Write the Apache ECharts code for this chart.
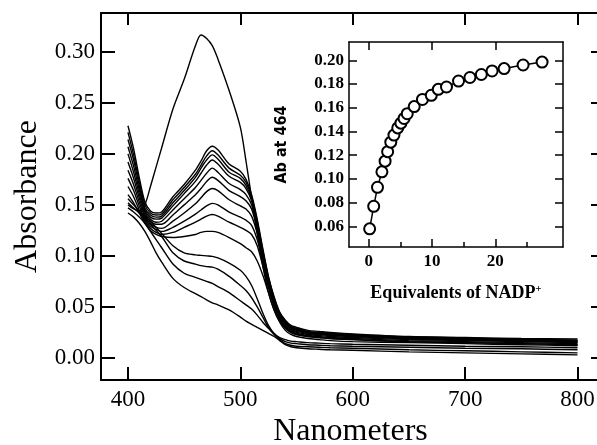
<!DOCTYPE html>
<html><head><meta charset="utf-8">
<script src="https://cdn.jsdelivr.net/npm/echarts@6/dist/echarts.min.js"></script>
<style>html,body{margin:0;padding:0;background:#fff}#c{width:597px;height:445px}</style>
</head><body><div id="c"></div>
<script>
const wavelengths = [400,405,410,415,420,425,430,440,450,460,465,470,475,480,490,500,505,510,515,520,525,530,535,540,545,550,560,570,580,600,650,700,750,800];

const spectrumTop = [0.150,0.146,0.144,0.150,0.168,0.187,0.206, 0.244,0.273,0.306,0.3165,0.313,0.306,0.293,0.262, 0.226,0.193,0.157,0.122,0.090,0.064,0.047,0.036,0.029,0.025,0.023, 0.021,0.020,0.019,0.018,0.016,0.015,0.014,0.013];
const spectrumP1 = [0.2275,0.205,0.177,0.153,0.144,0.142,0.143, 0.158,0.170,0.184,0.193,0.203,0.2075,0.204,0.190, 0.183,0.175,0.160,0.136,0.107,0.080,0.060,0.045,0.037,0.032,0.030, 0.027,0.026,0.025,0.0235,0.021,0.020,0.019,0.0185];
const spectrumP2 = [0.221,0.199,0.173,0.150,0.142,0.140,0.141, 0.155,0.167,0.180,0.189,0.198,0.203,0.199,0.186, 0.179,0.172,0.158,0.134,0.105,0.079,0.059,0.044,0.036,0.031,0.029, 0.026,0.025,0.024,0.023,0.0205,0.0195,0.0185,0.0175];
const spectrumP3 = [0.214,0.194,0.169,0.147,0.140,0.138,0.139, 0.152,0.164,0.177,0.186,0.194,0.199,0.195,0.182, 0.176,0.169,0.156,0.132,0.104,0.078,0.058,0.043,0.035,0.030,0.028, 0.0255,0.0245,0.0235,0.0225,0.020,0.019,0.018,0.017];
const spectrumP4 = [0.207,0.188,0.165,0.145,0.138,0.136,0.137, 0.149,0.161,0.173,0.181,0.189,0.194,0.190,0.178, 0.172,0.166,0.154,0.130,0.102,0.077,0.057,0.042,0.034,0.030,0.028, 0.025,0.024,0.023,0.022,0.0195,0.0185,0.0175,0.0165];
const spectrumP5 = [0.200,0.182,0.161,0.143,0.136,0.133,0.134, 0.145,0.156,0.167,0.174,0.181,0.186,0.182,0.171, 0.165,0.160,0.150,0.128,0.100,0.075,0.056,0.041,0.033,0.029,0.027, 0.0245,0.0235,0.0225,0.0215,0.019,0.018,0.017,0.016];
const spectrumP6 = [0.192,0.176,0.157,0.141,0.134,0.131,0.131, 0.140,0.150,0.160,0.166,0.173,0.177,0.174,0.164, 0.158,0.154,0.146,0.126,0.099,0.074,0.055,0.040,0.032,0.028,0.026, 0.024,0.023,0.022,0.021,0.0185,0.0175,0.0165,0.0155];
const spectrumP7 = [0.184,0.170,0.153,0.139,0.132,0.128,0.127, 0.134,0.142,0.151,0.157,0.163,0.166,0.164,0.155, 0.149,0.146,0.139,0.122,0.097,0.073,0.054,0.039,0.031,0.027,0.025, 0.023,0.022,0.021,0.020,0.018,0.017,0.016,0.015];
const spectrumP8 = [0.176,0.164,0.149,0.136,0.129,0.126,0.124, 0.128,0.134,0.141,0.145,0.149,0.1515,0.150,0.143, 0.138,0.135,0.130,0.116,0.094,0.071,0.052,0.038,0.030,0.026,0.024, 0.022,0.021,0.020,0.019,0.017,0.016,0.015,0.014];
const spectrumP9 = [0.168,0.158,0.145,0.134,0.127,0.123,0.121, 0.123,0.128,0.133,0.136,0.139,0.1405,0.139,0.133, 0.128,0.125,0.121,0.110,0.090,0.069,0.050,0.037,0.029,0.025,0.023, 0.021,0.020,0.019,0.018,0.016,0.015,0.014,0.013];
const spectrumP10 = [0.160,0.152,0.142,0.132,0.125,0.121,0.119, 0.118,0.119,0.121,0.123,0.124,0.124,0.123,0.118, 0.112,0.108,0.104,0.095,0.081,0.064,0.047,0.035,0.027,0.023,0.021, 0.019,0.018,0.017,0.016,0.015,0.014,0.013,0.012];
const spectrumS1 = [0.156,0.150,0.144,0.139,0.134,0.128,0.122, 0.110,0.103,0.101,0.1005,0.100,0.0995,0.098,0.093, 0.086,0.080,0.071,0.058,0.044,0.032,0.024,0.020,0.018,0.0165,0.016, 0.015,0.0145,0.014,0.0135,0.0125,0.0115,0.011,0.010];
const spectrumS2 = [0.152,0.147,0.142,0.137,0.131,0.125,0.119, 0.103,0.095,0.092,0.0905,0.0895,0.089,0.087,0.080, 0.071,0.066,0.059,0.050,0.040,0.030,0.024,0.019,0.016,0.0145,0.014, 0.013,0.0125,0.012,0.0115,0.0105,0.0095,0.009,0.008];
const spectrumS3 = [0.147,0.143,0.138,0.132,0.124,0.116,0.108, 0.092,0.083,0.079,0.077,0.075,0.073,0.070,0.064, 0.056,0.052,0.048,0.042,0.035,0.029,0.023,0.018,0.014,0.0125,0.0115, 0.011,0.0105,0.010,0.0095,0.008,0.007,0.006,0.005];
const spectrumS4 = [0.142,0.138,0.132,0.124,0.114,0.103,0.094, 0.078,0.069,0.063,0.060,0.057,0.054,0.052,0.047, 0.040,0.036,0.033,0.030,0.027,0.024,0.021,0.017,0.013,0.011,0.010, 0.009,0.0085,0.008,0.0075,0.006,0.005,0.004,0.003];

const equivalents = [0.16,0.8,1.4,2.1,2.6,3.0,3.5,4.0,4.6,5.1,5.6,6.1,7.2,8.5,9.9,11.0,12.3,14.2,16.0,17.8,19.5,21.4,24.4,27.4];
const ab464 = [0.058,0.077,0.093,0.106,0.115,0.123,0.131,0.137,0.143,0.147,0.151,0.155,0.161,0.167,0.1705,0.1755,0.1775,0.1825,0.1855,0.188,0.191,0.193,0.196,0.1985];

const mainXTicks = [400,500,600,700,800];
const mainYTicks = [0,0.05,0.10,0.15,0.20,0.25,0.30];
const insetXLabels = [0,10,20];
const insetXMinor = [5,15,25];
const insetYTicks = [0.06,0.08,0.10,0.12,0.14,0.16,0.18,0.20];

const spectra = [spectrumTop,spectrumP1,spectrumP2,spectrumP3,spectrumP4,spectrumP5,spectrumP6,spectrumP7,spectrumP8,spectrumP9,spectrumP10,spectrumS1,spectrumS2,spectrumS3,spectrumS4];

const SERIF = '"Liberation Serif","Times New Roman",serif';
const NARROW = '"Liberation Sans Narrow","DejaVu Sans Condensed","Liberation Sans",sans-serif';
const K = '#000';

const series = spectra.map(arr => ({
  type: 'line', xAxisIndex: 0, yAxisIndex: 0,
  data: wavelengths.map((w, i) => [w, arr[i]]),
  showSymbol: false, symbol: 'none', smooth: 0.3, silent: true,
  lineStyle: { color: K, width: 1.4 }
}));
series.push({
  type: 'line', xAxisIndex: 2, yAxisIndex: 2,
  data: equivalents.map((e, i) => [e, ab464[i]]),
  symbol: 'emptyCircle', symbolSize: 11, showAllSymbol: true,
  lineStyle: { color: K, width: 1.5 },
  itemStyle: { color: K, borderColor: K, borderWidth: 1.5 },
  z: 5
});

const axBase = (extra) => Object.assign({
  type: 'value', splitLine: { show: false },
  axisLine: { show: true, onZero: false, lineStyle: { color: K, width: 2 } }
}, extra);

const option = {
  animation: false,
  backgroundColor: '#fff',
  grid: [
    { left: 101, top: 13, right: -3, bottom: 65, outerBoundsMode: 'none', containLabel: false },
    { left: 349, top: 42, width: 214, height: 205, outerBoundsMode: 'none', containLabel: false }
  ],
  xAxis: [
    axBase({ gridIndex: 0, position: 'bottom', min: 376, max: 820,
      axisTick: { show: true, inside: true, length: 13, customValues: mainXTicks, lineStyle: { color: K, width: 2 } },
      axisLabel: { customValues: mainXTicks, fontFamily: SERIF, fontSize: 23, color: K, margin: 8 },
      name: 'Nanometers', nameLocation: 'middle', nameGap: 35,
      nameTextStyle: { fontFamily: SERIF, fontSize: 32, color: K } }),
    axBase({ gridIndex: 0, position: 'top', min: 376, max: 820,
      axisTick: { show: true, inside: true, length: 12, customValues: mainXTicks, lineStyle: { color: K, width: 2 } },
      axisLabel: { show: false } }),
    axBase({ gridIndex: 1, position: 'bottom', min: -3.1, max: 30.7,
      axisLine: { show: true, onZero: false, lineStyle: { color: K, width: 1.5 } },
      axisTick: { show: true, inside: true, length: 8, customValues: insetXLabels, lineStyle: { color: K, width: 1.5 } },
      axisLabel: { customValues: insetXLabels, fontFamily: SERIF, fontWeight: 'bold', fontSize: 17, color: K, margin: 6 },
      name: 'Equivalents of NADP{sup|+}', nameLocation: 'middle', nameGap: 37,
      nameTextStyle: { fontFamily: SERIF, fontWeight: 'bold', fontSize: 18, color: K,
        rich: { sup: { fontFamily: SERIF, fontWeight: 'bold', fontSize: 11, color: K, verticalAlign: 'top' } } } }),
    axBase({ gridIndex: 1, position: 'bottom', min: -3.1, max: 30.7,
      axisLine: { show: false, onZero: false },
      axisTick: { show: true, inside: true, length: 5, customValues: insetXMinor, lineStyle: { color: K, width: 1.5 } },
      axisLabel: { show: false } }),
    axBase({ gridIndex: 1, position: 'top', min: -3.1, max: 30.7,
      axisLine: { show: true, onZero: false, lineStyle: { color: K, width: 1.5 } },
      axisTick: { show: true, inside: true, length: 8, customValues: insetXLabels, lineStyle: { color: K, width: 1.5 } },
      axisLabel: { show: false } })
  ],
  yAxis: [
    axBase({ gridIndex: 0, position: 'left', min: -0.0216, max: 0.338,
      axisTick: { show: true, inside: true, length: 14, customValues: mainYTicks, lineStyle: { color: K, width: 2 } },
      axisLabel: { customValues: mainYTicks, fontFamily: SERIF, fontSize: 23, color: K, margin: 6,
        formatter: v => v.toFixed(2) },
      name: 'Absorbance', nameLocation: 'middle', nameGap: 56, nameRotate: 90,
      nameTextStyle: { fontFamily: SERIF, fontSize: 32, color: K } }),
    axBase({ gridIndex: 0, position: 'right', min: -0.0216, max: 0.338,
      axisLine: { show: false, onZero: false },
      axisTick: { show: true, inside: true, length: 9, customValues: mainYTicks, lineStyle: { color: K, width: 2 } },
      axisLabel: { show: false } }),
    axBase({ gridIndex: 1, position: 'left', min: 0.0427, max: 0.2154,
      axisLine: { show: true, onZero: false, lineStyle: { color: K, width: 1.5 } },
      axisTick: { show: true, inside: true, length: 8, customValues: insetYTicks, lineStyle: { color: K, width: 1.5 } },
      axisLabel: { customValues: insetYTicks, fontFamily: SERIF, fontWeight: 'bold', fontSize: 17, color: K, margin: 5,
        formatter: v => v.toFixed(2) },
      name: 'Ab at 464', nameLocation: 'middle', nameGap: 59, nameRotate: 90,
      nameTextStyle: { fontFamily: NARROW, fontWeight: 'bold', fontSize: 16, color: K } }),
    axBase({ gridIndex: 1, position: 'right', min: 0.0427, max: 0.2154,
      axisLine: { show: true, onZero: false, lineStyle: { color: K, width: 1.5 } },
      axisTick: { show: true, inside: true, length: 8, customValues: insetYTicks, lineStyle: { color: K, width: 1.5 } },
      axisLabel: { show: false } })
  ],
  series: series
};

const chart = echarts.init(document.getElementById('c'), null, { renderer: 'canvas' });
chart.setOption(option);
</script>
</body></html>
